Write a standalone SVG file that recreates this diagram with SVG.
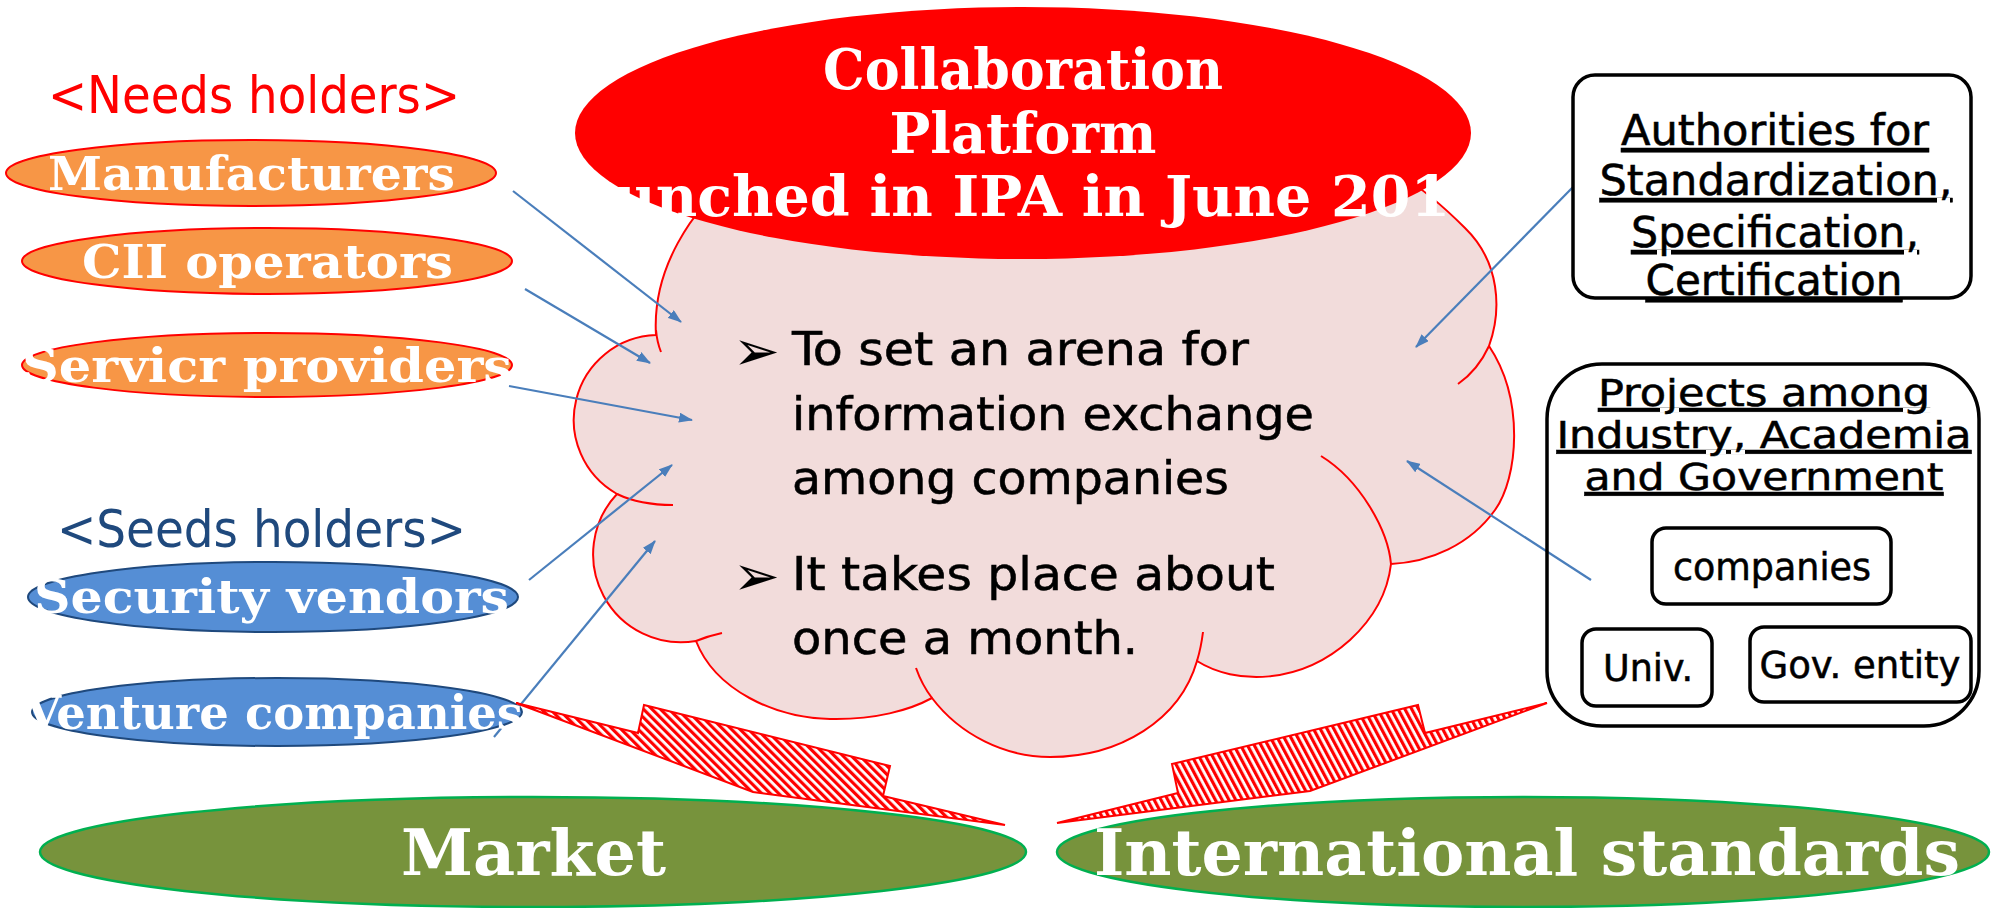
<svg xmlns="http://www.w3.org/2000/svg" width="1997" height="908" viewBox="0 0 1997 908">
  <style>
    .fancy { font-family: 'DejaVu Serif Condensed', 'DejaVu Serif', serif; font-weight: bold; fill: #ffffff; }
    .plain { font-family: 'DejaVu Sans Condensed', 'DejaVu Sans', sans-serif; fill: #000000; stroke: #000000; stroke-width: 0.5; }
    .bullet { font-family: 'DejaVu Sans', sans-serif; fill: #000000; }
    .head { font-family: 'DejaVu Sans Condensed', 'DejaVu Sans', sans-serif; font-size: 51px; }
    .needs { fill: #F79646; stroke: #FF0000; stroke-width: 2; }
    .seeds { fill: #558ED5; stroke: #1F497D; stroke-width: 2; }
    .goal { fill: #77933C; stroke: #00B050; stroke-width: 2.5; }
    .box { fill: none; stroke: #000000; stroke-width: 3.5; }
    .arrow { stroke: #4A7EBB; stroke-width: 2.2; fill: none; marker-end: url(#head); }
    .bolt { stroke: #FF0000; stroke-width: 2; stroke-linejoin: miter; }
    .lobe { fill: none; stroke: #FF0000; stroke-width: 2; }
    .ul { text-decoration: underline; }
  </style>
  <defs>
    <marker id="head" viewBox="0 0 14 10" refX="13" refY="5" markerWidth="14" markerHeight="10" markerUnits="userSpaceOnUse" orient="auto">
      <path d="M0,0 L14,5 L0,10 Z" fill="#4A7EBB"/>
    </marker>
    <pattern id="hatchL" patternUnits="userSpaceOnUse" width="6" height="6" patternTransform="rotate(-45)">
      <rect width="6" height="6" fill="#ffffff"/>
      <rect width="3.2" height="6" fill="#FF0000"/>
    </pattern>
    <pattern id="hatchR" patternUnits="userSpaceOnUse" width="6" height="6" patternTransform="rotate(-28)">
      <rect width="6" height="6" fill="#ffffff"/>
      <rect width="3.2" height="6" fill="#FF0000"/>
    </pattern>
  </defs>

  <rect width="1997" height="908" fill="#ffffff"/>

  <!-- central cloud -->
  <g id="platform-cloud">
    <path d="M740,170 C690,210 652,270 656,335
             A85,85 0 0 0 617,494
             A88,88 0 0 0 696,641
             C715,690 775,718 830,719 C875,720 910,710 932,698
             C960,735 1005,757 1050,757 C1120,757 1180,720 1197,661
             C1235,685 1300,685 1350,640 C1375,617 1388,590 1391,564
             C1430,562 1470,545 1495,510 C1518,478 1525,400 1489,346
             C1502,310 1500,262 1465,228 C1445,208 1425,190 1400,175 Z"
          fill="#F2DCDB" stroke="#FF0000" stroke-width="2"/>
    <path class="lobe" d="M656,330 Q657,342 661,352"/>
    <path class="lobe" d="M617,494 Q640,505 673,505"/>
    <path class="lobe" d="M696,641 Q708,636 722,633"/>
    <path class="lobe" d="M932,698 Q922,685 916,668"/>
    <path class="lobe" d="M1197,661 Q1201,648 1203,632"/>
    <path class="lobe" d="M1391,564 C1388,530 1360,480 1321,456"/>
    <path class="lobe" d="M1489,346 Q1478,370 1458,384"/>
    <text class="bullet" x="733" y="370" font-size="56">➢</text>
    <text class="plain" x="792" y="365" font-size="46" textLength="457" lengthAdjust="spacingAndGlyphs">To set an arena for</text>
    <text class="plain" x="792" y="430" font-size="46" textLength="522" lengthAdjust="spacingAndGlyphs">information exchange</text>
    <text class="plain" x="792" y="494" font-size="46" textLength="437" lengthAdjust="spacingAndGlyphs">among companies</text>
    <text class="bullet" x="733" y="595" font-size="56">➢</text>
    <text class="plain" x="792" y="590" font-size="46" textLength="483" lengthAdjust="spacingAndGlyphs">It takes place about</text>
    <text class="plain" x="792" y="654" font-size="46" textLength="346" lengthAdjust="spacingAndGlyphs">once a month.</text>
  </g>

  <!-- title ellipse -->
  <g id="collaboration-platform">
    <ellipse cx="1023" cy="133" rx="448" ry="126" fill="#FF0000"/>
    <text class="fancy" x="1023" y="89" font-size="56" text-anchor="middle" textLength="400" lengthAdjust="spacingAndGlyphs">Collaboration</text>
    <text class="fancy" x="1023" y="153" font-size="56" text-anchor="middle" textLength="267" lengthAdjust="spacingAndGlyphs">Platform</text>
    <text class="fancy" x="537" y="216" font-size="56" textLength="953" lengthAdjust="spacingAndGlyphs">Launched in IPA in June 2016</text>
  </g>

  <!-- connectors -->
  <g id="connectors">
    <path class="arrow" d="M513,191 L681,322"/>
    <path class="arrow" d="M525,289 L650,363"/>
    <path class="arrow" d="M509,386 L692,420"/>
    <path class="arrow" d="M529,580 L672,465"/>
    <path class="arrow" d="M494,737 L655,541"/>
    <path class="arrow" d="M1573,187 L1416,347"/>
    <path class="arrow" d="M1591,580 L1407,461"/>
  </g>

  <!-- needs holders -->
  <text class="head" x="48" y="113" fill="#FF0000" textLength="412" lengthAdjust="spacingAndGlyphs">&lt;Needs holders&gt;</text>
  <g id="manufacturers">
    <ellipse class="needs" cx="251" cy="173" rx="245" ry="33"/>
    <text class="fancy" x="48" y="190" font-size="47" textLength="407" lengthAdjust="spacingAndGlyphs">Manufacturers</text>
  </g>
  <g id="cii-operators">
    <ellipse class="needs" cx="267" cy="261" rx="245" ry="33"/>
    <text class="fancy" x="82" y="278" font-size="47" textLength="371" lengthAdjust="spacingAndGlyphs">CII operators</text>
  </g>
  <g id="service-providers">
    <ellipse class="needs" cx="267" cy="365" rx="245" ry="32"/>
    <text class="fancy" x="22" y="382" font-size="47" textLength="490" lengthAdjust="spacingAndGlyphs">Servicr providers</text>
  </g>

  <!-- seeds holders -->
  <text class="head" x="57" y="547" fill="#1F497D" textLength="409" lengthAdjust="spacingAndGlyphs">&lt;Seeds holders&gt;</text>
  <g id="security-vendors">
    <ellipse class="seeds" cx="273" cy="597" rx="245" ry="35"/>
    <text class="fancy" x="34" y="613" font-size="47" textLength="475" lengthAdjust="spacingAndGlyphs">Security vendors</text>
  </g>
  <g id="venture-companies">
    <ellipse class="seeds" cx="277" cy="712" rx="245" ry="34"/>
    <text class="fancy" x="25" y="729" font-size="47" textLength="498" lengthAdjust="spacingAndGlyphs">Venture companies</text>
  </g>

  <!-- authorities -->
  <g id="authorities">
    <rect class="box" x="1573" y="75" width="398" height="223" rx="22"/>
    <text class="plain ul" x="1775" y="145" font-size="42" text-anchor="middle" textLength="308" lengthAdjust="spacingAndGlyphs">Authorities for</text>
    <text class="plain ul" x="1776" y="195" font-size="42" text-anchor="middle" textLength="353" lengthAdjust="spacingAndGlyphs">Standardization,</text>
    <text class="plain ul" x="1775" y="247" font-size="42" text-anchor="middle" textLength="288" lengthAdjust="spacingAndGlyphs">Specification,</text>
    <text class="plain ul" x="1774" y="295" font-size="42" text-anchor="middle" textLength="257" lengthAdjust="spacingAndGlyphs">Certification</text>
  </g>

  <!-- industry / academia / government projects -->
  <g id="projects">
    <rect class="box" x="1547" y="364" width="432" height="362" rx="55"/>
    <text class="plain ul" x="1764" y="406" font-size="38" text-anchor="middle" textLength="332" lengthAdjust="spacingAndGlyphs">Projects among</text>
    <text class="plain ul" x="1764" y="448" font-size="38" text-anchor="middle" textLength="415" lengthAdjust="spacingAndGlyphs">Industry, Academia</text>
    <text class="plain ul" x="1764" y="490" font-size="38" text-anchor="middle" textLength="359" lengthAdjust="spacingAndGlyphs">and Government</text>
  </g>
  <g id="companies">
    <rect class="box" x="1652" y="528" width="239" height="76" rx="14"/>
    <text class="plain" x="1772" y="580" font-size="37" text-anchor="middle" textLength="198" lengthAdjust="spacingAndGlyphs">companies</text>
  </g>
  <g id="univ">
    <rect class="box" x="1582" y="629" width="130" height="77" rx="14"/>
    <text class="plain" x="1648" y="681" font-size="37" text-anchor="middle" textLength="90" lengthAdjust="spacingAndGlyphs">Univ.</text>
  </g>
  <g id="gov-entity">
    <rect class="box" x="1750" y="627" width="221" height="75" rx="14"/>
    <text class="plain" x="1860" y="678" font-size="37" text-anchor="middle" textLength="201" lengthAdjust="spacingAndGlyphs">Gov. entity</text>
  </g>

  <!-- outcomes -->
  <g id="market">
    <ellipse class="goal" cx="533" cy="852" rx="493" ry="55"/>
    <text class="fancy" x="401" y="875" font-size="63" textLength="265" lengthAdjust="spacingAndGlyphs">Market</text>
  </g>
  <g id="international-standards">
    <ellipse class="goal" cx="1523" cy="852" rx="466" ry="55"/>
    <text class="fancy" x="1094" y="875" font-size="63" textLength="866" lengthAdjust="spacingAndGlyphs">International standards</text>
  </g>

  <!-- lightning flows into the outcomes -->
  <g id="flows">
    <polygon class="bolt" fill="url(#hatchL)" points="516,703 638,733 644,705 890,766 883,796 1005,825 753,792"/>
    <polygon class="bolt" fill="url(#hatchR)" points="1547,703 1425,733 1418,705 1172,764 1178,793 1057,823 1310,791"/>
  </g>
</svg>
